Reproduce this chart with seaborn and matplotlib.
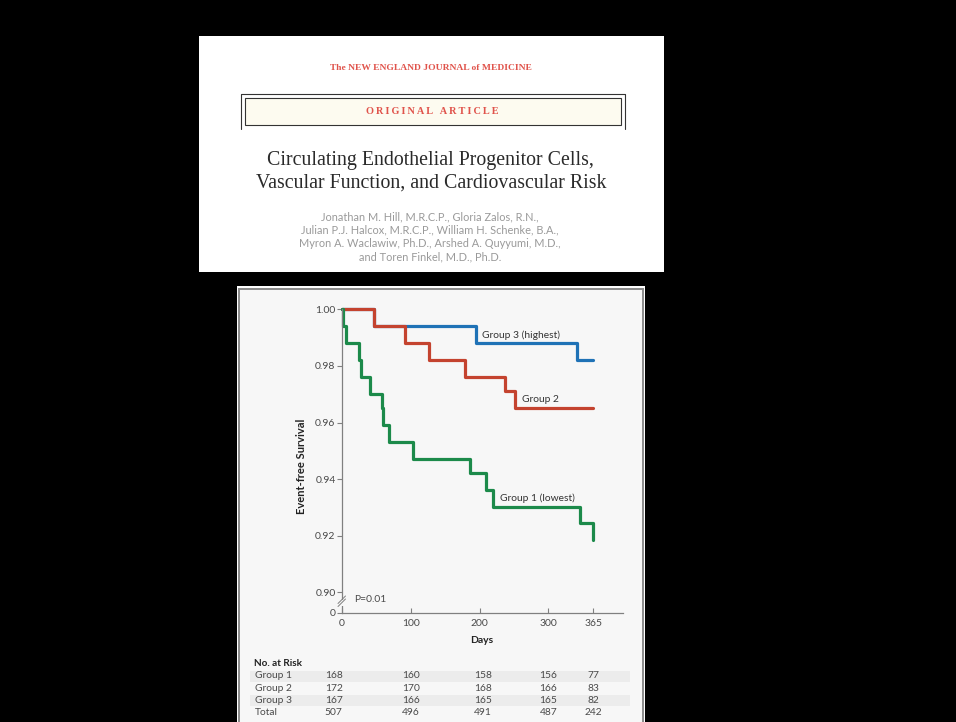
import numpy as np
import pandas as pd
import matplotlib
matplotlib.use('Agg')
import matplotlib.pyplot as plt
import matplotlib.transforms as mtransforms
from matplotlib.patches import Rectangle
from matplotlib.lines import Line2D
import seaborn as sns

# Kaplan-Meier steps (day of drop, survival after drop)
g1_days = [0, 2, 6, 25, 27, 41, 58, 60, 69, 103, 186, 210, 220, 346, 365]
g1_surv = [1.0, 0.994, 0.988, 0.982, 0.976, 0.970, 0.965, 0.959, 0.953,
           0.947, 0.942, 0.936, 0.930, 0.9245, 0.9185]
g2_days = [0, 47, 92, 127, 179, 237, 252, 365]
g2_surv = [1.0, 0.994, 0.988, 0.982, 0.976, 0.971, 0.965, 0.965]
g3_days = [0, 47, 195, 342, 365]
g3_surv = [1.0, 0.994, 0.988, 0.982, 0.982]

group_names = ['Group 3', 'Group 2', 'Group 1']
group_colors = ['#1f72b6', '#c4432f', '#1c8a4a']

x_ticks = [0, 100, 200, 300, 365]
y_ticks = [0.90, 0.92, 0.94, 0.96, 0.98, 1.00]

# No. at risk table
risk_rows = ['Group 1', 'Group 2', 'Group 3', 'Total']
risk_g1 = [168, 160, 158, 156, 77]
risk_g2 = [172, 170, 168, 166, 83]
risk_g3 = [167, 166, 165, 165, 82]
risk_total = [507, 496, 491, 487, 242]

authors = ['Jonathan M. Hill, M.R.C.P., Gloria Zalos, R.N.,',
           'Julian P.J. Halcox, M.R.C.P., William H. Schenke, B.A.,',
           'Myron A. Waclawiw, Ph.D., Arshed A. Quyyumi, M.D.,',
           'and Toren Finkel, M.D., Ph.D.']

df = pd.concat([
    pd.DataFrame({'day': g3_days, 'surv': g3_surv, 'group': 'Group 3'}),
    pd.DataFrame({'day': g2_days, 'surv': g2_surv, 'group': 'Group 2'}),
    pd.DataFrame({'day': g1_days, 'surv': g1_surv, 'group': 'Group 1'}),
], ignore_index=True)

sns.set_style('ticks')
plt.rcParams['font.family'] = ['Lato', 'DejaVu Sans']

W, H = 956, 722
def fx(px):
    return px / W
def fy(py):
    return 1 - py / H

fig = plt.figure(figsize=(W / 100, H / 100), dpi=100, facecolor='black')

def rect(x0, y0, x1, y1, **kw):
    fig.add_artist(Rectangle((fx(x0), fy(y1)), fx(x1) - fx(x0), fy(y0) - fy(y1),
                             transform=fig.transFigure, **kw))

# journal header card
rect(199, 36, 664, 272, facecolor='white', edgecolor='none', zorder=-10)
fig.add_artist(Line2D([fx(240.7), fx(240.7), fx(624.7), fx(624.7)],
                      [fy(129), fy(94.3), fy(94.3), fy(129)],
                      transform=fig.transFigure, color='#333333', lw=0.8))
rect(244.7, 98.3, 620.7, 125, facecolor='#fdfbf0', edgecolor='#333333', lw=0.8, zorder=-9)
serif = ['Liberation Serif', 'DejaVu Serif']
fig.text(fx(431), fy(67.7), 'The NEW ENGLAND JOURNAL of MEDICINE', family=serif,
         fontsize=6.8, weight='bold', color='#e0534b', ha='center', va='center')
fig.text(fx(432), fy(111), '\u2009'.join('ORIGINAL ARTICLE'), family=serif,
         fontsize=7.4, weight='bold', color='#e0534b', ha='center', va='center')
fig.text(fx(430), fy(160), 'Circulating Endothelial Progenitor Cells,', family=serif,
         fontsize=14.3, color='#2a2a2a', ha='center', va='center')
fig.text(fx(431), fy(182.7), 'Vascular Function, and Cardiovascular Risk', family=serif,
         fontsize=14.3, color='#2a2a2a', ha='center', va='center')
for line, yy in zip(authors, [216.7, 229.8, 243.2, 256.7]):
    fig.text(fx(430), fy(yy), line, fontsize=7.9, color='#9a9a9a', ha='center', va='center')

# figure panel
rect(237, 286, 645, 722, facecolor='white', edgecolor='none', zorder=-10)
rect(238.8, 288.8, 642.5, 740, facecolor='#f7f7f7', edgecolor='#8a8a8a', lw=1.4, zorder=-9)

ax = fig.add_axes([fx(342), fy(613), fx(622.7) - fx(342), fy(309.3) - fy(613)])
ax.patch.set_visible(False)

sns.lineplot(data=df, x='day', y='surv', hue='group', hue_order=group_names,
             palette=group_colors, drawstyle='steps-post', estimator=None,
             linewidth=2.3, legend=False, ax=ax, clip_on=False)

ybot = 0.8927
ax.set_xlim(0, 408)
ax.set_ylim(ybot, 1.0)
ax.set_xticks(x_ticks)
ax.set_xticklabels([str(t) for t in x_ticks])
ax.set_yticks([ybot] + y_ticks)
ax.set_yticklabels(['0'] + ['%.2f' % t for t in y_ticks])
sns.despine(ax=ax)
for s in ['left', 'bottom']:
    ax.spines[s].set_color('#808080')
    ax.spines[s].set_linewidth(0.9)
ax.tick_params(axis='y', direction='out', length=3.6, width=0.8, color='#808080',
               pad=1, labelsize=7.5, labelcolor='#4a4a4a')
ax.tick_params(axis='x', direction='in', length=3.6, width=0.8, color='#808080',
               pad=4.5, labelsize=7.5, labelcolor='#4a4a4a')

ax.set_ylabel('Event-free Survival', fontsize=8, weight='bold', color='#222222')
ax.yaxis.set_label_coords(-0.125, 0.482)
ax.set_xlabel('Days', fontsize=7.5, weight='bold', color='#222222')
ax.xaxis.set_label_coords(0.499, -0.077)

ax.text(203, 0.9908, 'Group 3 (highest)', fontsize=7.4, color='#333333', ha='left', va='center')
ax.text(262, 0.9682, 'Group 2', fontsize=7.4, color='#333333', ha='left', va='center')
ax.text(230, 0.9334, 'Group 1 (lowest)', fontsize=7.4, color='#333333', ha='left', va='center')
ax.text(17, 0.8976, 'P=0.01', fontsize=7.4, color='#4a4a4a', ha='left', va='center')

# axis break marks
rect(339, 599.5, 345, 606, facecolor='#f7f7f7', edgecolor='none', zorder=5)
for dy in (0, 3):
    fig.add_artist(Line2D([fx(338), fx(345.5)], [fy(606.5 - dy), fy(599 - dy)],
                          transform=fig.transFigure, color='#808080', lw=0.7, zorder=6))

# number at risk table
rect(250, 670.7, 630, 681.7, facecolor='#ececec', edgecolor='none', zorder=-8)
rect(250, 695, 630, 706, facecolor='#ececec', edgecolor='none', zorder=-8)
fig.text(fx(253.7), fy(664), 'No. at Risk', fontsize=7.2, weight='bold', color='#222222',
         ha='left', va='center')
trans = mtransforms.blended_transform_factory(ax.transData, fig.transFigure)
col_x = [-12, 100, 205, 300, 365]
for name, vals, yy in zip(risk_rows, [risk_g1, risk_g2, risk_g3, risk_total],
                          [676, 688.3, 700.7, 712.7]):
    fig.text(fx(255.3), fy(yy), name, fontsize=7.4, color='#4a4a4a', ha='left', va='center')
    for cx, v in zip(col_x, vals):
        ax.text(cx, fy(yy), str(v), transform=trans, fontsize=7.4, color='#4a4a4a',
                ha='center', va='center', clip_on=False)

fig.savefig('out.png', dpi=100, facecolor='black')
